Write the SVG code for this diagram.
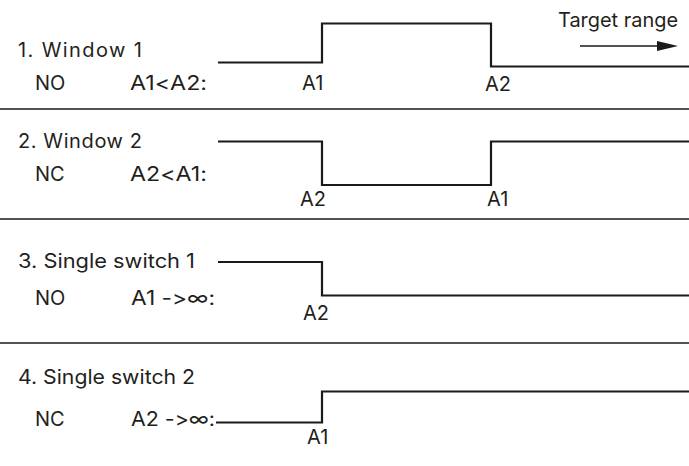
<svg xmlns="http://www.w3.org/2000/svg" width="689" height="466" viewBox="0 0 689 466">
<style>
text{font-family:Inter,"Open Sans","DejaVu Sans",sans-serif;font-size:20px;fill:#231f20;font-variant-ligatures:none;font-feature-settings:"calt" 0,"liga" 0}
.w{fill:none;stroke:#1a1a1a;stroke-width:2.2}
.sep{stroke:#1a1a1a;stroke-width:1.6}
</style>
<rect width="689" height="466" fill="#ffffff"/>
<g id="separators">
<line class="sep" x1="0" y1="109" x2="689" y2="109"/>
<line class="sep" x1="0" y1="219" x2="689" y2="219"/>
<line class="sep" x1="0" y1="343" x2="689" y2="343"/>
</g>
<g id="section1">
<text x="18" y="57" textLength="124" lengthAdjust="spacing">1. Window 1</text>
<text x="35" y="90">NO</text>
<text x="130" y="90" textLength="77" lengthAdjust="spacingAndGlyphs">A1&lt;A2:</text>
<text x="302" y="90">A1</text>
<text x="485" y="91">A2</text>
<text x="558" y="27" textLength="120" lengthAdjust="spacingAndGlyphs">Target range</text>
</g>
<g id="section2">
<text x="18" y="148" textLength="124" lengthAdjust="spacing">2. Window 2</text>
<text x="35" y="181">NC</text>
<text x="130" y="181" textLength="77" lengthAdjust="spacingAndGlyphs">A2&lt;A1:</text>
<text x="300" y="206">A2</text>
<text x="487" y="206">A1</text>
</g>
<g id="section3">
<text x="18" y="268" textLength="177" lengthAdjust="spacingAndGlyphs">3. Single switch 1</text>
<text x="35" y="305">NO</text>
<text x="131" y="305" textLength="84" lengthAdjust="spacingAndGlyphs">A1 -&gt;∞:</text>
<text x="303" y="320">A2</text>
</g>
<g id="section4">
<text x="18" y="384" textLength="177" lengthAdjust="spacingAndGlyphs">4. Single switch 2</text>
<text x="35" y="426">NC</text>
<text x="131" y="426" textLength="84" lengthAdjust="spacingAndGlyphs">A2 -&gt;∞:</text>
<text x="307" y="444">A1</text>
</g>
<g id="connectors">
<polyline class="w" points="218,62.5 322,62.5 322,23.5 491,23.5 491,66.5 689,66.5"/>
<polyline class="w" points="218,141.5 322,141.5 322,185 491,185 491,141.5 689,141.5"/>
<polyline class="w" points="218,262 322,262 322,295.5 689,295.5"/>
<polyline class="w" points="216,422.5 322,422.5 322,391.5 689,391.5"/>
<line x1="580" y1="46" x2="660" y2="46" stroke="#1a1a1a" stroke-width="1.5"/>
<polygon points="657,41 678,46 657,51" fill="#1a1a1a"/>
</g>
</svg>
